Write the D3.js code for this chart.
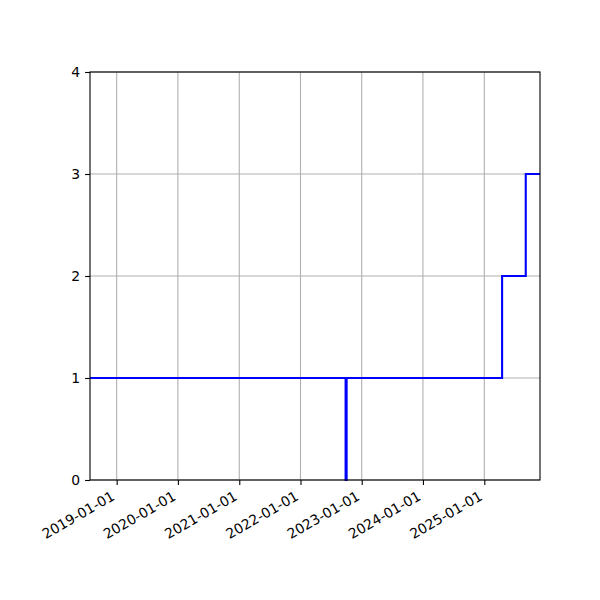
<!DOCTYPE html>
<html>
<head>
<meta charset="utf-8">
<script src="https://cdn.jsdelivr.net/npm/d3@7"></script>
<style>
  body { margin: 0; background: #fff; }
  text { font-family: "DejaVu Sans", sans-serif; }
</style>
</head>
<body>
<div id="chart"></div>
<script>
// step data, value holds until next date
const dates = ["2018-07-26", "2022-09-27", "2022-10-03", "2025-04-17", "2025-09-05", "2025-11-29"];
const counts = [1, 0, 1, 2, 3, 3];
const yTicks = [0, 1, 2, 3, 4];

const svg = d3.select("#chart")
    .append("svg")
    .attr("width", 600)
    .attr("height", 600);

const margin = { top: 72, right: 60, bottom: 120, left: 90 };
const graphWidth = 600 - margin.left - margin.right;
const graphHeight = 600 - margin.top - margin.bottom;

const parse = d3.timeParse("%Y-%m-%d");
const data = dates.map((d, i) => ({ date: parse(d), value: counts[i] }));

const x = d3.scaleTime()
    .domain(d3.extent(data, d => d.date))
    .range([0, graphWidth]);

const y = d3.scaleLinear()
    .domain([0, 4])
    .range([graphHeight, 0]);

const graph = svg.append("g")
    .attr("transform", `translate(${margin.left}, ${margin.top})`);

const xTicks = x.ticks(d3.timeYear.every(1));

// grid
graph.append("g")
    .selectAll("line")
    .data(xTicks)
    .enter()
    .append("line")
    .attr("x1", d => x(d)).attr("x2", d => x(d))
    .attr("y1", 0).attr("y2", graphHeight)
    .attr("stroke", "#b0b0b0")
    .attr("stroke-width", 1.1);

graph.append("g")
    .selectAll("line")
    .data(yTicks)
    .enter()
    .append("line")
    .attr("x1", 0).attr("x2", graphWidth)
    .attr("y1", d => y(d)).attr("y2", d => y(d))
    .attr("stroke", "#b0b0b0")
    .attr("stroke-width", 1.1);

const line = d3.line()
    .x(d => x(d.date))
    .y(d => y(d.value))
    .curve(d3.curveStepAfter);

graph.append("path")
    .datum(data)
    .attr("fill", "none")
    .attr("stroke", "#0000ff")
    .attr("stroke-width", 2.1)
    .attr("d", line);

// spines
graph.append("rect")
    .attr("width", graphWidth)
    .attr("height", graphHeight)
    .attr("fill", "none")
    .attr("stroke", "black")
    .attr("stroke-width", 1.1);

const xAxisGroup = graph.append("g")
    .attr("transform", `translate(0, ${graphHeight})`)
    .call(d3.axisBottom(x)
        .tickValues(xTicks)
        .tickFormat(d3.timeFormat("%Y-%m-%d"))
        .tickSize(4.9)
        .tickPadding(4.9));

xAxisGroup.select(".domain").remove();
xAxisGroup.selectAll("line").attr("stroke-width", 1.1);
xAxisGroup.selectAll("text")
    .attr("y", 0)
    .attr("dy", 0)
    .attr("text-anchor", "end")
    .attr("transform", "translate(-1.5, 19) rotate(-30)")
    .style("font-size", "13.9px")
    .style("fill", "black");

const yAxisGroup = graph.append("g")
    .call(d3.axisLeft(y)
        .tickValues(yTicks)
        .tickFormat(d3.format("d"))
        .tickSize(4.9)
        .tickPadding(4.9));

yAxisGroup.select(".domain").remove();
yAxisGroup.selectAll("line").attr("stroke-width", 1.1);
yAxisGroup.selectAll("text")
    .style("font-size", "13.9px")
    .style("fill", "black");
</script>
</body>
</html>
